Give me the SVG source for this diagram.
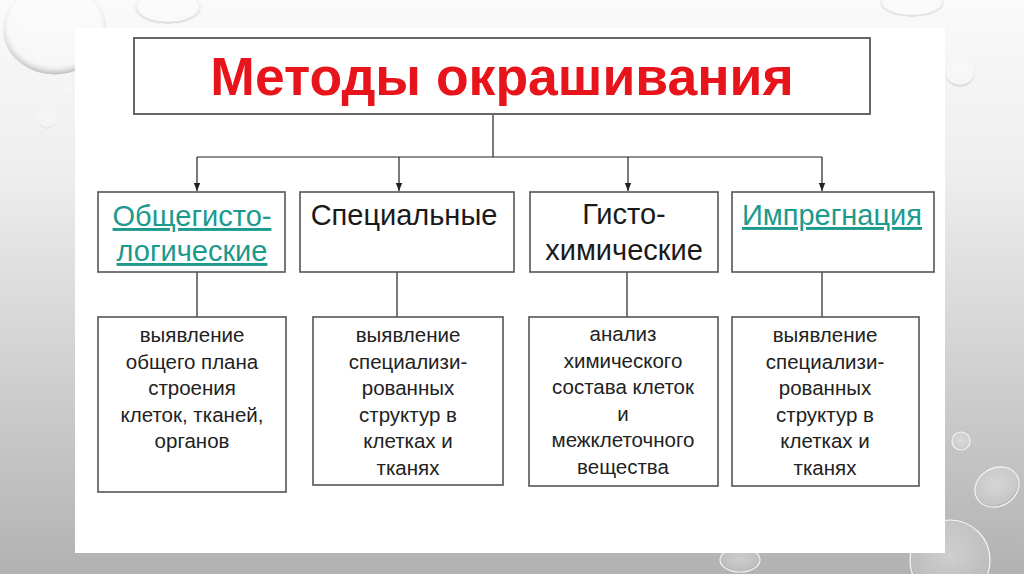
<svg xmlns="http://www.w3.org/2000/svg" width="1024" height="574" viewBox="0 0 1024 574">
<defs>
<linearGradient id="bg" x1="0" y1="0" x2="0" y2="1">
<stop offset="0" stop-color="#fafafa"/>
<stop offset="0.3" stop-color="#eeeeee"/>
<stop offset="1" stop-color="#b2b2b2"/>
</linearGradient>
<radialGradient id="drop" cx="0.5" cy="0.45" r="0.55">
<stop offset="0" stop-color="#ffffff" stop-opacity="0.35"/>
<stop offset="0.8" stop-color="#ffffff" stop-opacity="0.15"/>
<stop offset="1" stop-color="#8a8a8a" stop-opacity="0.6"/>
</radialGradient>
<marker id="arr" viewBox="0 0 10 10" refX="10" refY="5" markerWidth="7" markerHeight="7" orient="auto">
<path d="M0,1 L10,5 L0,9 Z" fill="#222"/>
</marker>
<style>
.box{fill:#fff;stroke:#555;stroke-width:1.6}
.t2{font-family:"Liberation Sans",Arial,sans-serif;font-size:29px;fill:#1a1a1a;text-anchor:middle}
.lnk{fill:#1c9a8c;text-decoration:underline}
.t3{font-family:"Liberation Sans",Arial,sans-serif;font-size:20.5px;fill:#222;text-anchor:middle}
.con{stroke:#222;stroke-width:1.2;fill:none}
.drop{fill:url(#drop);stroke:#f4f4f4;stroke-width:1.2}
</style>
</defs>
<rect width="1024" height="574" fill="url(#bg)"/>
<g id="droplets">
<ellipse class="drop" cx="55" cy="30" rx="52" ry="45"/>
<ellipse class="drop" cx="168" cy="8" rx="33" ry="16"/>
<circle class="drop" cx="67" cy="91" r="6"/>
<circle class="drop" cx="47" cy="119" r="10"/>
<ellipse class="drop" cx="912" cy="3" rx="32" ry="14"/>
<circle class="drop" cx="960" cy="71" r="16"/>
<circle class="drop" cx="961" cy="441" r="9"/>
<ellipse class="drop" cx="997" cy="487" rx="23" ry="19" transform="rotate(-30 997 487)"/>
<circle class="drop" cx="950" cy="560" r="40"/>
<ellipse class="drop" cx="740" cy="560" rx="20" ry="12"/>
</g>
<rect id="panel" x="75" y="28" width="870" height="525" fill="#fff"/>
<g id="connectors">
<line class="con" x1="493" y1="114" x2="493" y2="157"/>
<line class="con" x1="197" y1="157" x2="822" y2="157"/>
<line class="con" x1="197" y1="157" x2="197" y2="191" marker-end="url(#arr)"/>
<line class="con" x1="399" y1="157" x2="399" y2="191" marker-end="url(#arr)"/>
<line class="con" x1="628" y1="157" x2="628" y2="191" marker-end="url(#arr)"/>
<line class="con" x1="822" y1="157" x2="822" y2="191" marker-end="url(#arr)"/>
<line class="con" x1="197" y1="272" x2="197" y2="317"/>
<line class="con" x1="397" y1="272" x2="397" y2="317"/>
<line class="con" x1="627" y1="272" x2="627" y2="317"/>
<line class="con" x1="822" y1="272" x2="822" y2="317"/>
</g>
<g id="title">
<rect x="134" y="38" width="736" height="76" fill="#fff" stroke="#666" stroke-width="2"/>
<text x="502" y="95" font-family="'Liberation Sans',Arial,sans-serif" font-size="53.5" font-weight="bold" fill="#e8141b" text-anchor="middle">Методы окрашивания</text>
</g>
<g id="n1">
<rect class="box" x="98" y="192" width="187" height="80"/>
<text class="t2 lnk" x="192" y="226">Общегисто-</text>
<text class="t2 lnk" x="192" y="261">логические</text>
</g>
<g id="n2">
<rect class="box" x="300" y="192" width="214" height="80"/>
<text class="t2" x="404" y="225">Специальные</text>
</g>
<g id="n3">
<rect class="box" x="530" y="192" width="188" height="80"/>
<text class="t2" x="624" y="224">Гисто-</text>
<text class="t2" x="624" y="260">химические</text>
</g>
<g id="n4">
<rect class="box" x="732" y="192" width="202" height="80"/>
<text class="t2 lnk" x="832" y="225">Импрегнация</text>
</g>
<g id="d1">
<rect class="box" x="98" y="317" width="188" height="175"/>
<text class="t3" x="192" y="342">выявление</text>
<text class="t3" x="192" y="368.5">общего плана</text>
<text class="t3" x="192" y="395">строения</text>
<text class="t3" x="192" y="421.5">клеток, тканей,</text>
<text class="t3" x="192" y="448">органов</text>
</g>
<g id="d2">
<rect class="box" x="313" y="317" width="190" height="168"/>
<text class="t3" x="408" y="342">выявление</text>
<text class="t3" x="408" y="368.5">специализи-</text>
<text class="t3" x="408" y="395">рованных</text>
<text class="t3" x="408" y="421.5">структур в</text>
<text class="t3" x="408" y="448">клетках и</text>
<text class="t3" x="408" y="474.5">тканях</text>
</g>
<g id="d3">
<rect class="box" x="529" y="317" width="189" height="169"/>
<text class="t3" x="623" y="341">анализ</text>
<text class="t3" x="623" y="367.5">химического</text>
<text class="t3" x="623" y="394">состава клеток</text>
<text class="t3" x="623" y="420.5">и</text>
<text class="t3" x="623" y="447">межклеточного</text>
<text class="t3" x="623" y="473.5">вещества</text>
</g>
<g id="d4">
<rect class="box" x="732" y="317" width="187" height="169"/>
<text class="t3" x="825" y="342">выявление</text>
<text class="t3" x="825" y="368.5">специализи-</text>
<text class="t3" x="825" y="395">рованных</text>
<text class="t3" x="825" y="421.5">структур в</text>
<text class="t3" x="825" y="448">клетках и</text>
<text class="t3" x="825" y="474.5">тканях</text>
</g>
</svg>
